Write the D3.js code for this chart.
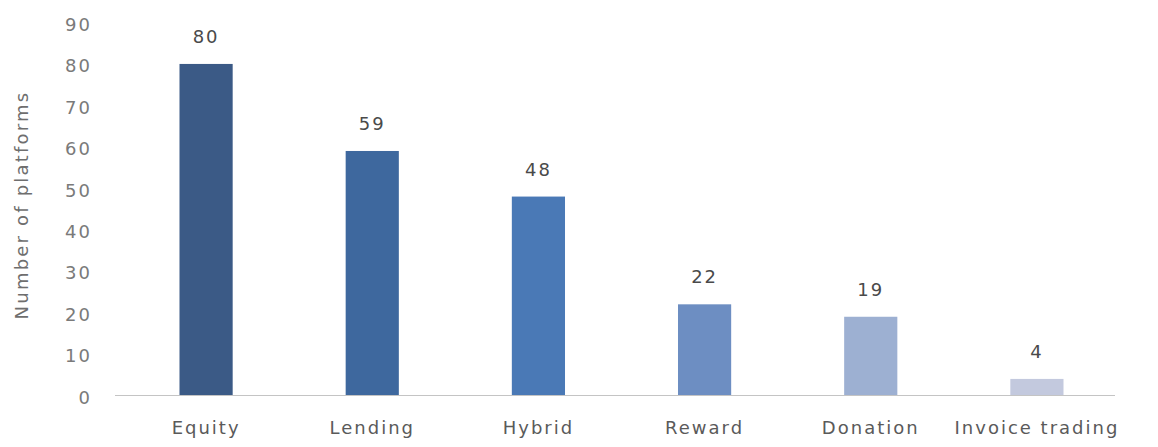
<!DOCTYPE html>
<html>
<head>
<meta charset="utf-8">
<script src="https://cdn.jsdelivr.net/npm/d3@7"></script>
<style>
  html, body { margin: 0; padding: 0; background: #fff; }
  svg { display: block; font-family: "DejaVu Sans", Verdana, sans-serif; }
</style>
</head>
<body>
<svg id="chart" width="1158" height="447"></svg>
<script>
// Crowdfunding platforms by model
const categories = ["Equity", "Lending", "Hybrid", "Reward", "Donation", "Invoice trading"];
const platformCounts = [80, 59, 48, 22, 19, 4];
const barColors = ["#3b5a86", "#3e689e", "#4a79b6", "#6d8ec2", "#9db0d2", "#c3c9de"];
const yTicks = [0, 10, 20, 30, 40, 50, 60, 70, 80, 90];
const yTitle = "Number of platforms";

const svg = d3.select("#chart");

const x = d3.scaleBand()
  .domain(categories)
  .range([123, 1120])
  .paddingInner(0.68)
  .paddingOuter(0.34);

const y = d3.scaleLinear()
  .domain([0, 90])
  .range([395.5, 22.5]);

const labelStyle = sel => sel
  .style("font-size", "18px")
  .style("letter-spacing", "2px")
  .style("font-family", "'DejaVu Sans', Verdana, sans-serif");

// Y axis tick labels (no axis line)
const yAxis = d3.axisLeft(y).tickValues(yTicks).tickSize(0).tickPadding(0);
const gy = svg.append("g").attr("transform", "translate(92,2)").call(yAxis);
gy.select(".domain").remove();
gy.selectAll("text")
  .attr("fill", "#7a7a7a")
  .call(labelStyle);

// Y axis title
svg.append("text")
  .attr("transform", `translate(28,${205}) rotate(-90)`)
  .attr("text-anchor", "middle")
  .attr("fill", "#6e6e6e")
  .style("font-size", "18px")
  .style("letter-spacing", "2.2px")
  .text(yTitle);

// Bars
svg.append("g").selectAll("rect")
  .data(categories)
  .join("rect")
  .attr("x", d => x(d))
  .attr("width", x.bandwidth())
  .attr("y", (d, i) => y(platformCounts[i]))
  .attr("height", (d, i) => y(0) - y(platformCounts[i]))
  .attr("fill", (d, i) => barColors[i]);

// X axis baseline and category labels
const xAxis = d3.axisBottom(x).tickSize(0).tickPadding(26);
const gx = svg.append("g").attr("transform", `translate(0,${y(0)})`).call(xAxis);
gx.select(".domain")
  .attr("stroke", "#c4c4c4")
  .attr("stroke-width", 1.2)
  .attr("d", "M115,0H1115");
gx.selectAll("text")
  .attr("fill", "#5a5a5a")
  .call(labelStyle);

// Value labels above bars
svg.append("g").selectAll("text")
  .data(categories)
  .join("text")
  .attr("x", d => x(d) + x.bandwidth() / 2)
  .attr("y", (d, i) => y(platformCounts[i]) - 21)
  .attr("text-anchor", "middle")
  .attr("fill", "#4a4a4a")
  .call(labelStyle)
  .text((d, i) => platformCounts[i]);
</script>
</body>
</html>
